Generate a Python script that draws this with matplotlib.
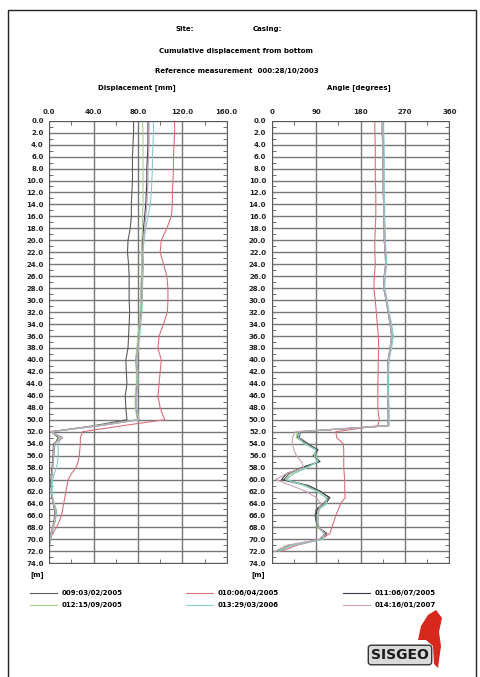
import matplotlib
matplotlib.use("Agg")
import matplotlib.pyplot as plt
from matplotlib.lines import Line2D
from matplotlib.patches import Rectangle, Polygon

# profondita (m)
depth = [0, 2, 4, 6, 8, 10, 12, 14, 16, 18, 20, 22, 24, 26, 28, 30, 32, 34, 36, 38, 40, 42, 44, 46, 48, 50,
         51, 52, 53, 54, 55, 56, 57, 58, 59, 60, 61, 62, 63, 64, 65, 66, 67, 68, 69, 70, 71, 72]

labels = ['009:03/02/2005', '010:06/04/2005', '011:06/07/2005',
          '012:15/09/2005', '013:29/03/2006', '014:16/01/2007']
colors = ['#5c5c5c', '#d8707e', '#3a3f4c', '#a6cf8a', '#86cccc', '#c9a3b8']

# spostamento cumulativo (mm)
disp_009 = [76, 76, 75.5, 75, 75, 75, 74.5, 74, 74, 73, 71, 70.5, 71.5, 72, 72, 72, 72.5, 72, 71.5, 71, 69, 69.5, 70, 68.5, 69, 70,
            40, 2, 8, 5, 4.5, 4, 3.5, 3, 2.5, 2, 2, 2, 2.5, 3.5, 4.5, 5, 4, 3, 1.5, 0.5, 0, 0]
disp_010 = [113, 113, 112.5, 112, 112, 111.5, 111, 111, 110, 106, 101, 100, 103, 106, 107, 107, 106.5, 103, 99, 98, 101, 100, 99, 98, 100, 104,
            66, 30, 28, 28, 27.5, 27, 26, 24, 20, 17, 16, 15, 14, 13, 12, 11, 9, 6.5, 3, 0.5, 0, 0]
disp_011 = [89, 89, 89, 88.5, 88, 88, 87.5, 87, 86, 85, 84, 83.5, 84, 83.5, 83, 83, 82.5, 81.5, 80.5, 79.5, 78, 79, 79, 78, 78, 80,
            44, 1, 12, 4, 3.5, 3.5, 3, 2.5, 2, 1.5, 1.5, 2, 2.5, 4, 6, 6, 5, 3.5, 2, 1, 0, 0]
disp_012 = [84, 84.5, 84.5, 84.5, 84.5, 84.5, 84.5, 84.5, 84, 84, 83.5, 83, 83.5, 83, 82.5, 82.5, 82, 81, 80, 79, 78, 78.5, 78.5, 77.5, 77.5, 79.5,
            42, 1.5, 10, 4.5, 4, 4, 3.5, 3, 2.5, 2, 2, 2.5, 3, 4.5, 6, 6, 5, 3.5, 2, 1, 0, 0]
disp_013 = [94, 94, 93.5, 93, 93, 92.5, 92, 91, 89, 87, 85.5, 84.5, 85, 84.5, 84, 84, 83.5, 82.5, 81.5, 80.5, 79, 80, 80, 79, 79, 81,
            45, 2.5, 11, 8, 8, 8, 7.5, 6.5, 4.5, 3, 2.5, 2.5, 3, 4, 5.5, 6, 5, 3.5, 2, 1, 0, 0]
disp_014 = [90, 90, 90, 89.5, 89, 89, 88.5, 88, 87, 86, 85, 84.5, 84.5, 84, 83.5, 83.5, 83, 82, 81, 80, 78.5, 79.5, 79.5, 78.5, 78.5, 80.5,
            46, 1, 12, 5, 4, 4, 3.5, 3, 2.5, 2, 2, 2, 2.5, 3.5, 5, 5.5, 4.5, 3, 1.5, 0.5, 0, 0]

# angolo (gradi)
ang_009 = [226, 226, 226, 227, 227, 227, 227, 228, 228, 229, 229, 231, 232, 229, 228, 233, 237, 241, 244, 241, 237, 236, 236, 236, 237, 237,
           237, 58, 56, 74, 92, 88, 96, 60, 35, 25, 75, 100, 115, 105, 90, 88, 90, 95, 112, 98, 40, 12]
ang_010 = [209, 209, 210, 210, 210, 210, 211, 211, 211, 210, 209, 209, 210, 208, 207, 210, 212, 214, 216, 217, 216, 216, 215, 215, 215, 218,
           215, 130, 132, 145, 146, 146, 146, 146, 147, 148, 148, 148, 149, 140, 135, 130, 126, 122, 118, 100, 50, 20]
ang_011 = [224, 224, 225, 225, 226, 226, 226, 227, 227, 228, 228, 230, 231, 228, 227, 232, 236, 240, 243, 240, 236, 235, 235, 235, 236, 236,
           236, 55, 52, 70, 94, 84, 98, 64, 30, 20, 71, 98, 118, 110, 92, 90, 91, 93, 110, 100, 35, 10]
ang_012 = [225, 225, 226, 226, 227, 227, 227, 228, 228, 229, 229, 231, 232, 229, 228, 233, 237, 241, 244, 241, 237, 236, 236, 236, 237, 237,
           236, 52, 50, 68, 90, 86, 92, 70, 40, 28, 68, 95, 112, 108, 95, 92, 92, 92, 108, 102, 38, 8]
ang_013 = [227, 227, 228, 228, 228, 228, 228, 229, 229, 230, 230, 232, 233, 230, 229, 234, 238, 243, 247, 243, 238, 237, 237, 237, 238, 238,
           238, 56, 54, 66, 88, 90, 94, 72, 45, 30, 66, 92, 110, 112, 96, 94, 93, 96, 105, 104, 42, 14]
ang_014 = [224, 224, 225, 225, 226, 226, 226, 227, 227, 228, 228, 230, 231, 228, 227, 232, 236, 240, 243, 240, 236, 235, 235, 235, 236, 236,
           236, 48, 42, 42, 45, 50, 60, 65, 30, 8, 40, 70, 90, 100, 96, 95, 94, 96, 108, 96, 30, 6]

disp_all = [disp_009, disp_010, disp_011, disp_012, disp_013, disp_014]
ang_all = [ang_009, ang_010, ang_011, ang_012, ang_013, ang_014]

W, H = 480, 677
FS = 5.0
plt.rcParams['font.weight'] = 'bold'


def fx(x):
    return x / W


def fy(y):
    return 1 - y / H


fig = plt.figure(figsize=(4.8, 6.77), dpi=100)

# cornice pagina
fig.add_artist(Rectangle((fx(8), fy(680)), fx(476.5) - fx(8), fy(10) - fy(680),
                         transform=fig.transFigure, fill=False, lw=1.0, ec='#222222'))

fig.text(fx(185), fy(29), 'Site:', ha='center', va='center', fontsize=FS)
fig.text(fx(267), fy(29), 'Casing:', ha='center', va='center', fontsize=FS)
fig.text(fx(236), fy(51), 'Cumulative displacement from bottom', ha='center', va='center', fontsize=FS)
fig.text(fx(237), fy(71), 'Reference measurement  000:28/10/2003', ha='center', va='center', fontsize=FS)
fig.text(fx(137), fy(88), 'Displacement [mm]', ha='center', va='center', fontsize=FS)
fig.text(fx(359), fy(88), 'Angle [degrees]', ha='center', va='center', fontsize=FS)

ax_top, ax_bot = 120.7, 563.3
ax1 = fig.add_axes([fx(49.3), fy(ax_bot), fx(226.7) - fx(49.3), fy(ax_top) - fy(ax_bot)])
ax2 = fig.add_axes([fx(271.7), fy(ax_bot), fx(449.3) - fx(271.7), fy(ax_top) - fy(ax_bot)])


def setup(ax, xmax, xmajor, xminor, fmt):
    ax.set_xlim(0, xmax)
    ax.set_ylim(74, 0)
    ax.set_xticks(xmajor)
    ax.set_xticks(xminor, minor=True)
    ax.set_xticklabels([fmt % v for v in xmajor])
    yt = list(range(0, 75, 2))
    ax.set_yticks(yt)
    ax.set_yticks(list(range(1, 74, 2)), minor=True)
    ax.set_yticklabels(['%.1f' % v for v in yt])
    ax.xaxis.tick_top()
    ax.tick_params(which='both', direction='in', top=True, bottom=True, left=True, right=True,
                   labelsize=FS, colors='#555555', labelcolor='#222222', width=0.6)
    ax.tick_params(which='major', length=0, pad=4)
    ax.tick_params(which='minor', length=3)
    ax.grid(True, which='major', color='#767676', lw=1.0)
    for s in ax.spines.values():
        s.set_color('#555555')
        s.set_linewidth(0.7)
    ax.set_axisbelow(True)


setup(ax1, 160, [0, 40, 80, 120, 160], [20, 60, 100, 140], '%.1f')
setup(ax2, 360, [0, 90, 180, 270, 360], [45, 135, 225, 315], '%d')

for vals, c in zip(disp_all, colors):
    ax1.plot(vals, depth, color=c, lw=0.8)
for vals, c in zip(ang_all, colors):
    ax2.plot(vals, depth, color=c, lw=0.8)

fig.text(fx(37), fy(575), '[m]', ha='center', va='center', fontsize=FS)
fig.text(fx(258), fy(575), '[m]', ha='center', va='center', fontsize=FS)

# legenda manuale
col_x = [30, 186, 343]
row_y = [593, 605]
for i, (lab, c) in enumerate(zip(labels, colors)):
    x0 = col_x[i % 3]
    y0 = row_y[i // 3]
    fig.add_artist(Line2D([fx(x0), fx(x0 + 27)], [fy(y0), fy(y0)], color=c, lw=0.8,
                          transform=fig.transFigure))
    fig.text(fx(x0 + 32), fy(y0), lab, ha='left', va='center', fontsize=FS)

# logo
fig.text(fx(400), fy(655), 'SISGEO', ha='center', va='center', fontsize=10, fontweight='bold',
         color='#1a1a1a',
         bbox=dict(boxstyle='round,pad=0.2', fc='#d9d9d9', ec='#333333', lw=1.0))
fig.add_artist(Polygon([(fx(418), fy(640)), (fx(421), fy(626)), (fx(428), fy(615)), (fx(436), fy(610)),
                        (fx(442), fy(618)), (fx(439), fy(632)), (fx(441), fy(646)), (fx(438), fy(668)),
                        (fx(434), fy(664)), (fx(433), fy(646)), (fx(426), fy(640))],
                       closed=True, transform=fig.transFigure, fc='#d8281e', ec='none', zorder=5))

fig.savefig('out.png', dpi=100)
